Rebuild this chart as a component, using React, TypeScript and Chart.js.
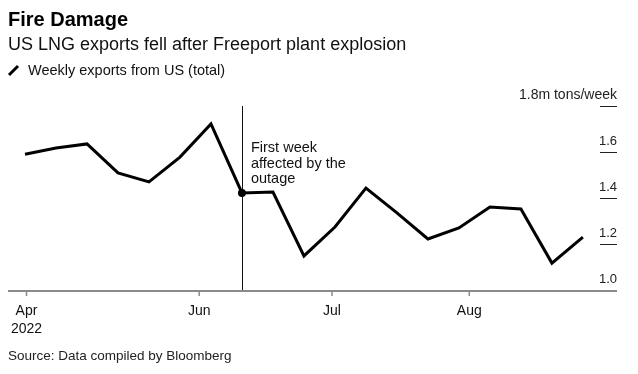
import React, { useEffect, useRef } from "react";
import { Chart, registerables } from "chart.js";

Chart.register(...registerables);

// ---- data ----
const weekDates = [
  "2022-04-23", "2022-04-30", "2022-05-07", "2022-05-14", "2022-05-21",
  "2022-05-28", "2022-06-04", "2022-06-11", "2022-06-18", "2022-06-25",
  "2022-07-02", "2022-07-09", "2022-07-16", "2022-07-23", "2022-07-30",
  "2022-08-06", "2022-08-13", "2022-08-20", "2022-08-27",
];
const weeklyExports = [
  1.59, 1.617, 1.635, 1.509, 1.47, 1.578, 1.722, 1.422, 1.426, 1.148,
  1.274, 1.443, 1.335, 1.222, 1.27, 1.361, 1.352, 1.117, 1.23,
];
const xTickDates = ["2022-04-23", "2022-06-01", "2022-07-01", "2022-08-01"];
const xTickLabels = ["Apr", "Jun", "Jul", "Aug"];
const yTickValues = [1.0, 1.2, 1.4, 1.6, 1.8];
const yTickLabels = ["1.0", "1.2", "1.4", "1.6", "1.8m tons/week"];
const eventDate = "2022-06-11";
const eventLabel = ["First week", "affected by the", "outage"];

const TITLE = "Fire Damage";
const SUBTITLE = "US LNG exports fell after Freeport plant explosion";
const LEGEND = "Weekly exports from US (total)";
const SOURCE = "Source: Data compiled by Bloomberg";

const FONT = '"Liberation Sans", Arial, sans-serif';

function dayNum(s: string): number {
  const [y, m, d] = s.split("-").map(Number);
  return (Date.UTC(y, m - 1, d) - Date.UTC(2022, 3, 23)) / 86400000;
}

const overlay = {
  id: "overlay",
  beforeDatasetsDraw(chart: any) {
    const ctx = chart.ctx;
    const xs = chart.scales.x;
    const ys = chart.scales.y;
    const area = chart.chartArea;
    ctx.save();
    // event vertical line
    const ex = Math.round(xs.getPixelForValue(dayNum(eventDate))) + 0.5;
    ctx.strokeStyle = "#111";
    ctx.lineWidth = 1;
    ctx.beginPath();
    ctx.moveTo(ex, ys.getPixelForValue(1.8));
    ctx.lineTo(ex, area.bottom);
    ctx.stroke();
    // y ticks (short lines on the right)
    ctx.strokeStyle = "#222";
    ctx.lineWidth = 1;
    ctx.fillStyle = "#222";
    ctx.textAlign = "right";
    ctx.textBaseline = "alphabetic";
    yTickValues.forEach((v, i) => {
      const py = Math.round(ys.getPixelForValue(v)) + 0.5;
      if (i > 0) {
        ctx.beginPath();
        ctx.moveTo(area.right - 17, py);
        ctx.lineTo(area.right, py);
        ctx.stroke();
      }
      ctx.font = i === yTickValues.length - 1 ? `14px ${FONT}` : `13px ${FONT}`;
      ctx.fillText(yTickLabels[i], area.right, py - 8);
    });
    // x axis line
    ctx.strokeStyle = "#8a8a8a";
    ctx.lineWidth = 2;
    ctx.beginPath();
    ctx.moveTo(area.left, area.bottom + 1);
    ctx.lineTo(area.right, area.bottom + 1);
    ctx.stroke();
    // x ticks + labels
    ctx.lineWidth = 1.5;
    ctx.fillStyle = "#111";
    ctx.font = `14px ${FONT}`;
    ctx.textAlign = "center";
    xTickDates.forEach((d, i) => {
      const px = xs.getPixelForValue(dayNum(d)) + 1.5;
      ctx.beginPath();
      ctx.moveTo(px, area.bottom + 1);
      ctx.lineTo(px, area.bottom + 6);
      ctx.stroke();
      ctx.fillText(xTickLabels[i], px, 315);
      if (i === 0) ctx.fillText("2022", px, 333);
    });
    ctx.restore();
  },
  afterDraw(chart: any) {
    const ctx = chart.ctx;
    const xs = chart.scales.x;
    const ys = chart.scales.y;
    ctx.save();
    // event dot
    const idx = weekDates.indexOf(eventDate);
    ctx.fillStyle = "#000";
    ctx.beginPath();
    ctx.arc(
      xs.getPixelForValue(dayNum(eventDate)),
      ys.getPixelForValue(weeklyExports[idx]),
      4,
      0,
      Math.PI * 2
    );
    ctx.fill();
    // event label
    ctx.fillStyle = "#111";
    ctx.font = `14.5px ${FONT}`;
    ctx.textAlign = "left";
    const ex = xs.getPixelForValue(dayNum(eventDate));
    eventLabel.forEach((t, i) => ctx.fillText(t, ex + 9, 152 + i * 15.5));
    // titles
    ctx.fillStyle = "#000";
    ctx.font = `bold 20px ${FONT}`;
    ctx.fillText(TITLE, 8, 26);
    ctx.fillStyle = "#111";
    ctx.font = `18px ${FONT}`;
    ctx.fillText(SUBTITLE, 8, 50);
    // legend
    ctx.strokeStyle = "#000";
    ctx.lineWidth = 3;
    ctx.lineCap = "butt";
    ctx.beginPath();
    ctx.moveTo(9, 75);
    ctx.lineTo(18, 66);
    ctx.stroke();
    ctx.font = `14.5px ${FONT}`;
    ctx.fillText(LEGEND, 28, 75);
    // source
    ctx.fillStyle = "#222";
    ctx.font = `13.5px ${FONT}`;
    ctx.fillText(SOURCE, 8, 360);
    ctx.restore();
  },
};

export default function App() {
  const ref = useRef<HTMLCanvasElement>(null);
  useEffect(() => {
    if (!ref.current) return;
    const chart = new Chart(ref.current, {
      type: "line",
      data: {
        datasets: [
          {
            label: LEGEND,
            data: weekDates.map((d, i) => ({ x: dayNum(d), y: weeklyExports[i] })),
            borderColor: "#000",
            borderWidth: 3,
            pointRadius: 0,
            tension: 0,
            borderJoinStyle: "miter",
          },
        ],
      },
      options: {
        animation: false,
        responsive: false,
        devicePixelRatio: 1,
        layout: { padding: { left: 8, right: 21, top: 106, bottom: 84 } },
        plugins: { legend: { display: false }, tooltip: { enabled: false } },
        scales: {
          x: { type: "linear", display: false, min: -3.84, max: 133.7 },
          y: { type: "linear", display: false, min: 1.0, max: 1.8 },
        },
      },
      plugins: [overlay],
    });
    return () => chart.destroy();
  }, []);
  return (
    <div style={{ position: "absolute", left: 0, top: 0, width: 638, height: 374, background: "#fff" }}>
      <canvas ref={ref} width={638} height={374} style={{ width: 638, height: 374 }} />
    </div>
  );
}
